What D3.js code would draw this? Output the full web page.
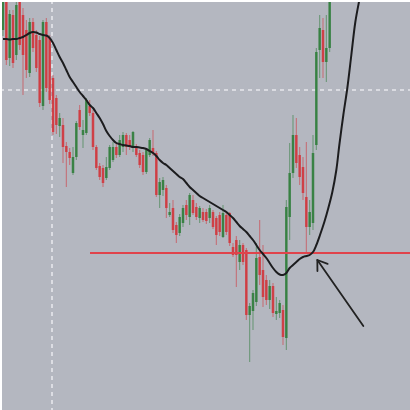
<!DOCTYPE html>
<html>
<head>
<meta charset="utf-8">
<script src="https://cdn.jsdelivr.net/npm/d3@7"></script>
<style>
  html, body { margin: 0; padding: 0; background: #fff; }
  svg { display: block; }
</style>
</head>
<body>
<svg width="410" height="410"></svg>
<script>
// candle data (price units), one entry per bar
var opens  = [380,408,352,395,355,408,395,380,337,388,375,370,304,388,372,332,312,284,285,264,
              258,237,253,300,275,277,304,297,263,244,242,232,242,250,263,255,263,275,270,262,
              264,257,255,238,255,262,257,215,220,222,195,202,185,177,187,205,193,210,203,192,
              198,198,192,198,192,195,173,195,197,163,170,148,165,160,95,99,108,153,140,130,
              110,124,96,97,100,72,193,237,275,255,243,213,183,187,265,360,380,348,362];
var closes = [408,350,396,347,405,365,355,340,388,362,342,307,388,322,310,278,285,292,263,258,
              252,253,287,283,280,310,297,263,242,233,227,243,263,263,255,270,275,263,263,278,
              255,245,238,260,270,257,215,228,230,202,198,180,175,193,202,195,215,197,193,202,
              190,189,202,183,175,178,197,178,167,155,155,165,148,95,104,117,152,135,113,110,
              124,97,99,107,73,203,237,275,247,233,217,183,198,257,358,382,348,362,410];
var highs  = [410,410,400,400,410,410,402,390,392,392,380,374,390,392,375,335,315,297,292,268,
              262,263,289,305,290,312,310,300,265,247,245,253,265,268,267,275,278,277,275,279,
              266,260,258,262,272,280,259,232,233,225,207,210,188,196,205,210,217,215,207,204,
              202,201,205,200,194,198,205,198,198,167,174,170,167,162,107,120,167,190,165,135,
              130,127,113,110,105,210,267,295,292,263,253,268,210,275,362,395,392,395,420];
var lows   = [374,345,344,342,350,360,315,332,333,358,338,303,300,318,306,275,276,273,247,223,
              245,235,250,280,262,275,294,260,240,230,223,230,240,248,252,253,258,255,260,258,
              253,242,235,236,253,254,213,202,214,192,193,177,167,174,183,190,185,195,190,187,
              188,186,187,181,165,174,172,175,164,153,123,140,145,90,48,80,104,125,103,105,
              101,93,90,92,65,60,170,232,242,225,210,157,175,180,260,332,332,328,358];

// moving average, one value per bar up to index 93
var maValues = [371,371,370.5,371,371,372,373,375,377,378,377.5,376,375,374.5,372,367,360,353,347,340,
                333,328,323,318,314,310,305,302,297,292,286,279,274,270,267,266,265,264.5,264,263,
                263,262.5,262,261,259,257,254,250,247,245,242,239,236,233,231,227,223,220,217,214,
                212,210,208,206,204,202,200,198,195,192,188,184,181,178,174,170,165,160,156,152,
                147,142,138,135.5,135,137,142,145,148,151,153,154,155,158];

// hand drawn continuation of the curve (bar index, price)
var curveIdx  = [94.0, 95.1, 96.4, 97.6, 98.8, 100, 100.9, 102.1, 103.3, 104.5, 105.7, 106.9, 107.5];
var curveVals = [165, 175, 188, 202, 218, 240, 265, 295, 322, 355, 388, 410, 420];

// support level and crosshair
var levelPrice = 157, levelStart = 26.1;
var crossIdx = 14.7, crossPrice = 320;

// arrow annotation: tail -> tip (bar index, price)
var arrowIdx  = [108.1, 94.3];
var arrowVals = [84, 150];

var svg = d3.select("svg");
var width = 410, height = 410;

var x = d3.scaleLinear().domain([0, 123]).range([3, 413]);
var y = d3.scaleLinear().domain([0, 410]).range([410, 0]);

var bg = "#b4b7c0";
var upColor = "#2f7d3a";
var downColor = "#d2353b";

svg.append("defs").append("clipPath").attr("id", "plot")
    .append("rect").attr("x", 2).attr("y", 2).attr("width", width - 2).attr("height", height - 2);

svg.append("rect")
    .attr("x", 2).attr("y", 2)
    .attr("width", width - 2).attr("height", height - 2)
    .attr("fill", bg);

var plot = svg.append("g").attr("clip-path", "url(#plot)");

// dashed crosshair
plot.append("line")
    .attr("x1", x(crossIdx)).attr("x2", x(crossIdx))
    .attr("y1", 0).attr("y2", height)
    .attr("stroke", "#e6e7ec").attr("stroke-width", 1.6)
    .attr("stroke-dasharray", "4,4");
plot.append("line")
    .attr("x1", 0).attr("x2", width)
    .attr("y1", y(crossPrice)).attr("y2", y(crossPrice))
    .attr("stroke", "#e6e7ec").attr("stroke-width", 1.6)
    .attr("stroke-dasharray", "4,4");

var bars = d3.range(opens.length).map(function (i) {
    return { i: i, o: opens[i], c: closes[i], h: highs[i], l: lows[i] };
});

function barColour(d) {
    return d.c >= d.o ? upColor : downColor;
}

// wicks
plot.append("g").selectAll("line")
    .data(bars)
    .enter().append("line")
    .attr("x1", d => x(d.i)).attr("x2", d => x(d.i))
    .attr("y1", d => y(d.h)).attr("y2", d => y(d.l))
    .attr("stroke", barColour)
    .attr("stroke-width", 1.1)
    .attr("opacity", 0.55);

// bodies
plot.append("g").selectAll("rect")
    .data(bars)
    .enter().append("rect")
    .attr("x", d => x(d.i) - 1.25)
    .attr("width", 2.5)
    .attr("y", d => y(Math.max(d.o, d.c)))
    .attr("height", d => Math.max(1, Math.abs(y(d.o) - y(d.c))))
    .attr("fill", barColour)
    .attr("opacity", 0.88);

// support level
plot.append("line")
    .attr("x1", x(levelStart)).attr("x2", width)
    .attr("y1", y(levelPrice)).attr("y2", y(levelPrice))
    .attr("stroke", "#e0434b").attr("stroke-width", 2);

// moving average plus drawn curve
var pts = maValues.map(function (v, i) { return [i, v]; })
    .concat(curveIdx.map(function (v, i) { return [v, curveVals[i]]; }));

var line = d3.line()
    .x(d => x(d[0]))
    .y(d => y(d[1]))
    .curve(d3.curveCatmullRom);

plot.append("path")
    .datum(pts)
    .attr("d", line)
    .attr("fill", "none")
    .attr("stroke", "#1c1c1e")
    .attr("stroke-width", 2)
    .attr("stroke-linejoin", "round");

// arrow
var tail = [x(arrowIdx[0]), y(arrowVals[0])];
var tip = [x(arrowIdx[1]), y(arrowVals[1])];
var ang = Math.atan2(tail[1] - tip[1], tail[0] - tip[0]);
var headLen = 11, spread = 0.6;

plot.append("line")
    .attr("x1", tail[0]).attr("y1", tail[1])
    .attr("x2", tip[0]).attr("y2", tip[1])
    .attr("stroke", "#222").attr("stroke-width", 1.8)
    .attr("stroke-linecap", "round");

plot.append("path")
    .attr("d", d3.line()([
        [tip[0] + headLen * Math.cos(ang - spread), tip[1] + headLen * Math.sin(ang - spread)],
        tip,
        [tip[0] + headLen * Math.cos(ang + spread), tip[1] + headLen * Math.sin(ang + spread)]
    ]))
    .attr("fill", "none")
    .attr("stroke", "#222").attr("stroke-width", 1.8)
    .attr("stroke-linecap", "round").attr("stroke-linejoin", "round");
</script>
</body>
</html>
